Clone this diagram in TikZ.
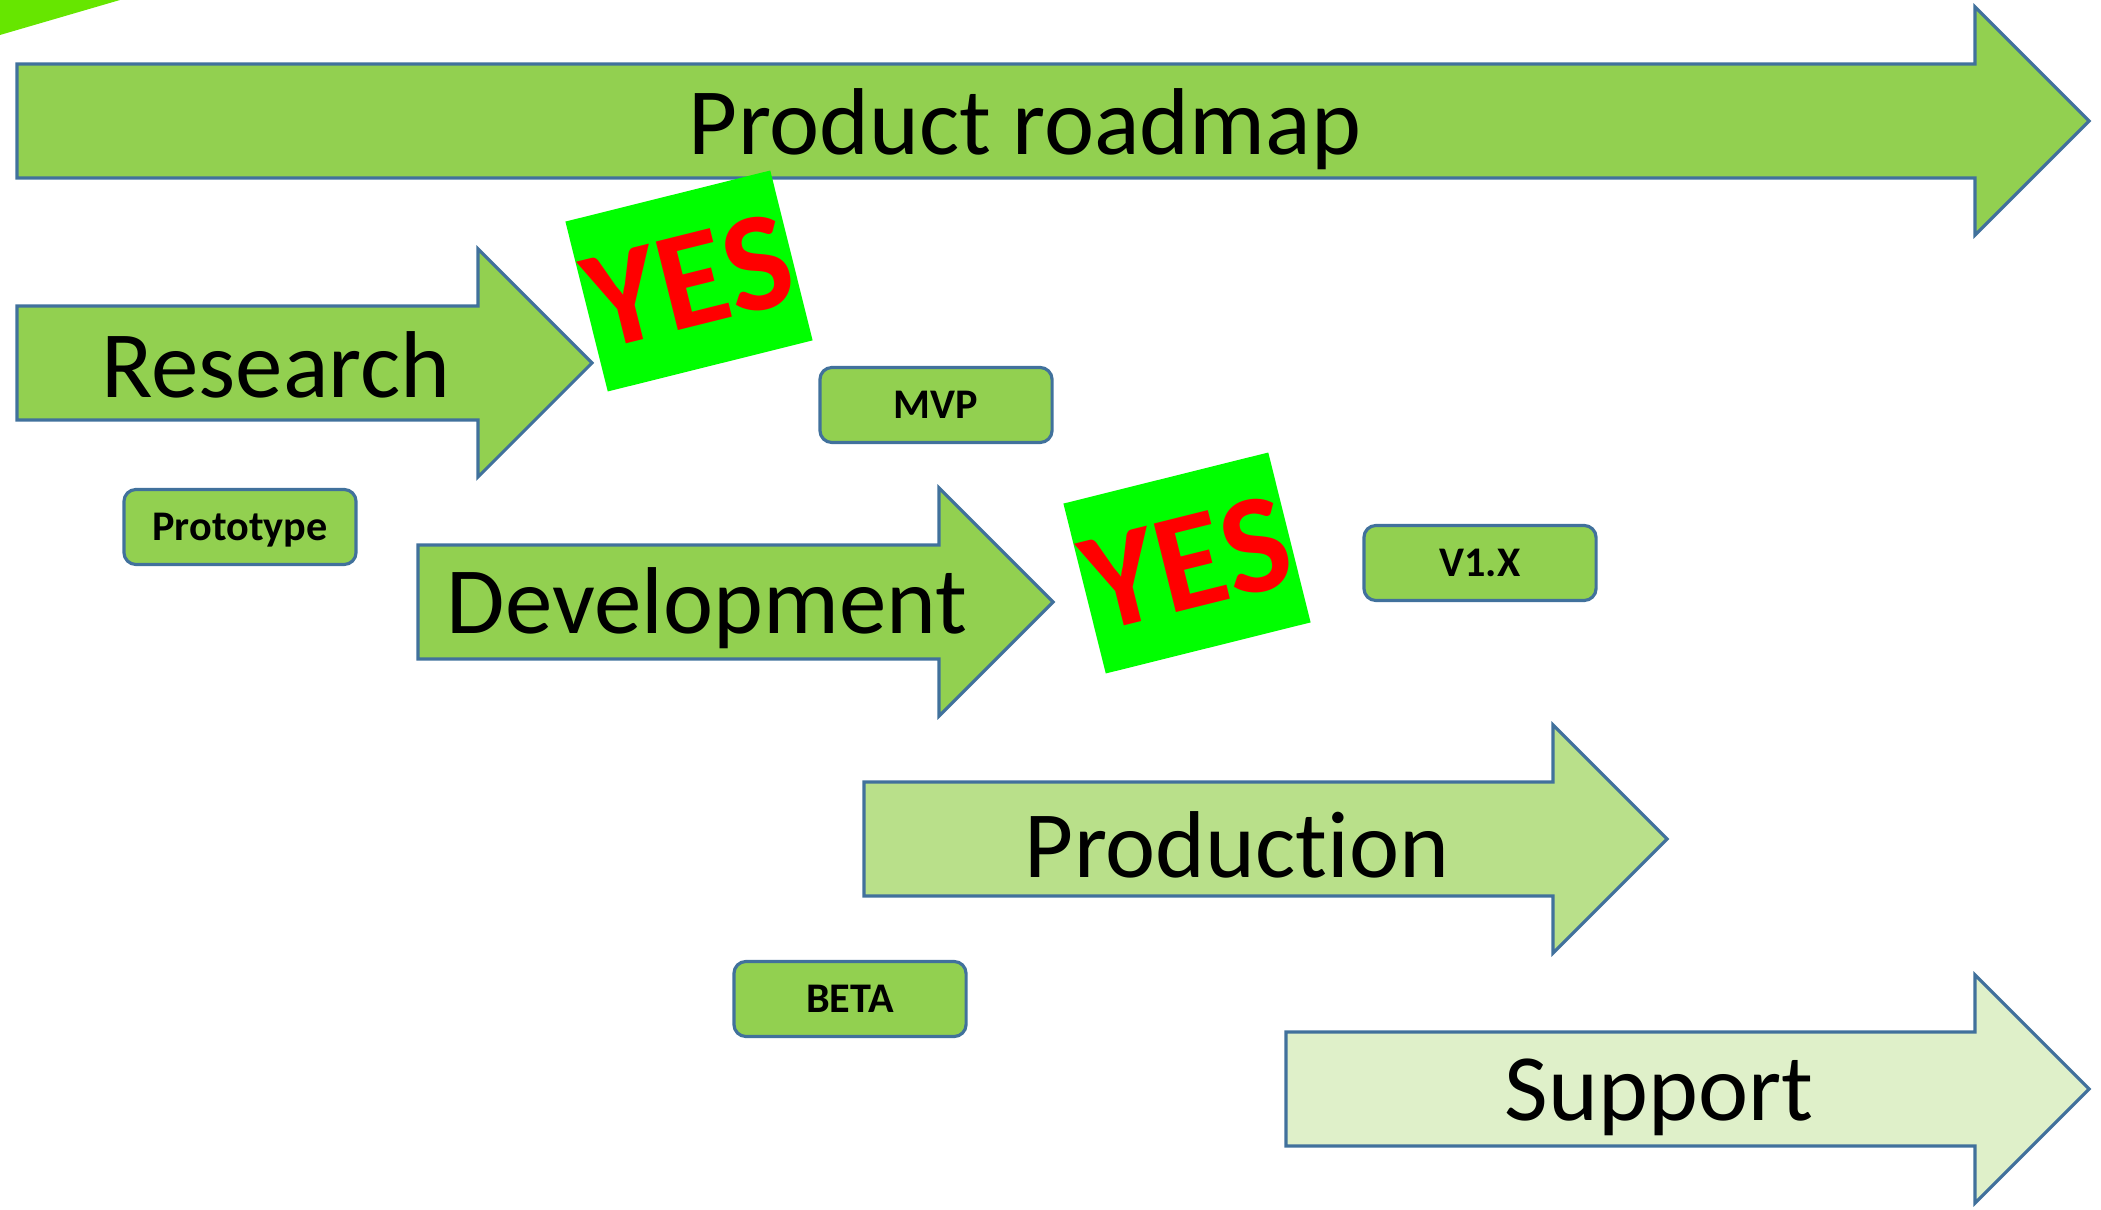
\documentclass[tikz,border=0pt]{standalone}
\usepackage{fontspec}
\setmainfont{Carlito}[Ligatures={NoCommon}]
\usetikzlibrary{positioning}
\definecolor{phase_a}{RGB}{146,208,80}
\definecolor{phase_b}{RGB}{185,224,138}
\definecolor{phase_c}{RGB}{223,240,201}
\definecolor{edge}{RGB}{65,113,156}
\definecolor{yesgreen}{RGB}{0,255,0}
\definecolor{corner}{RGB}{102,230,0}

\begin{document}
\begin{tikzpicture}[
    x=0.01cm, y=-0.01cm,
    phaselabel/.style={font=\fontsize{27}{32}\selectfont, inner sep=0pt},
    milestone/.style={rectangle, draw=edge, line width=0.9pt, rounded corners=0.12cm, fill=phase_a, minimum width=2.32cm, minimum height=0.75cm, inner sep=0pt, text height=0.75em, text depth=0pt, font=\fontsize{12}{14}\selectfont\bfseries},
    yesbox/.style={rectangle, fill=yesgreen, rotate=14, minimum width=2.11cm, minimum height=1.75cm, inner sep=0pt, text=red, font=\fontsize{40}{44}\selectfont\bfseries}
]
\useasboundingbox (0,0) rectangle (2101,1210);
\fill[corner] (0,0) -- (120,0) -- (0,35) -- cycle;

% phase arrows: left end / head base / centre line / fill
\foreach \xa/\xb/\yc/\col in {17/1975/121/phase_a, 17/478/363/phase_a, 418/939/602/phase_a, 864/1553/839/phase_b, 1286/1975/1089/phase_c}
  \draw[edge, line width=0.9pt, fill=\col] (\xa,{\yc-57}) -- (\xb,{\yc-57}) -- (\xb,{\yc-114}) -- ({\xb+114},\yc) -- (\xb,{\yc+114}) -- (\xb,{\yc+57}) -- (\xa,{\yc+57}) -- cycle;

\node[phaselabel] (roadmap) at (1025,129) {Product roadmap};
\node[phaselabel] (research) at (276,365) {Research};
\node[phaselabel] (develop) at (707,608) {Development};
\node[phaselabel] (produce) at (1237,845) {Production};
\node[phaselabel] (support) at (1659,1097) {Support};

\node[yesbox] (yesa) at (689,281) {YES};
\node[yesbox] (yesb) at (1187,563) {YES};

\node[milestone] (proto) at (240,527) {Prototype};
\node[milestone] (mvp) at (936,405) {MVP};
\node[milestone] (vonex) at (1480,563) {V1.X};
\node[milestone] (beta) at (850,999) {BETA};
\end{tikzpicture}
\end{document}
